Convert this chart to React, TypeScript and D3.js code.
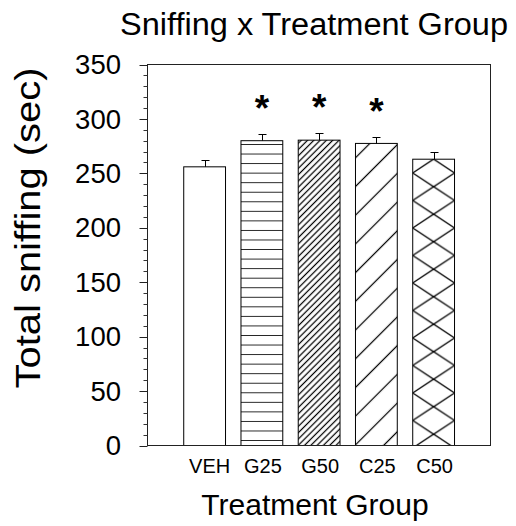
import React from "react";
import * as d3 from "d3";

const categories = ["VEH", "G25", "G50", "C25", "C50"];
const means = [256, 280, 280.5, 277.5, 263];
const sems = [6, 6, 6.5, 6, 6.5];
const significant = [false, true, true, true, false];
const fills = ["none", "hlines", "dense", "sparse", "cross"];
const yMajorTicks = [0, 50, 100, 150, 200, 250, 300, 350];
const titleText = "Sniffing x Treatment Group";
const yLabel = "Total sniffing (sec)";
const xLabel = "Treatment Group";

const W = 516;
const H = 526;
const left = 147.5;
const right = 490.5;
const top = 64.5;
const bottom = 445.5;
const FONT = "'Liberation Sans', Arial, Helvetica, sans-serif";

export default function App() {
  const y = d3.scaleLinear().domain([0, 350]).range([bottom, top]);
  const x = d3
    .scaleBand<string>()
    .domain(categories)
    .range([176, 462.25])
    .paddingInner(0.27)
    .paddingOuter(0.135);
  const bw = x.bandwidth();
  const minorTicks = d3.range(0, 351, 10).filter((v) => v % 50 !== 0);

  const patternFor = (kind: string, i: number) => {
    const bx = x(categories[i]) as number;
    const by = y(means[i]);
    const id = `pat-${i}`;
    if (kind === "hlines") {
      return (
        <pattern key={id} id={id} patternUnits="userSpaceOnUse" x={bx} y={Math.round(by) + 3} width={bw + 2} height={9.55}>
          <rect width={bw + 2} height={9.55} fill="#fff" />
          <line x1={0} x2={bw + 2} y1={0.5} y2={0.5} stroke="#222" strokeWidth={1} />
        </pattern>
      );
    }
    if (kind === "dense" || kind === "sparse") {
      const d = kind === "dense" ? 4.45 : 20.3;
      return (
        <pattern key={id} id={id} patternUnits="userSpaceOnUse" x={bx} y={by} width={d} height={d} patternTransform={`rotate(45 ${bx} ${by})`}>
          <rect width={d} height={d} fill="#fff" />
          <line x1={d / 2} x2={d / 2} y1={0} y2={d} stroke="#000" strokeWidth={1.25} />
        </pattern>
      );
    }
    if (kind === "cross") {
      const pw = bw;
      const ph = 27.5;
      return (
        <pattern key={id} id={id} patternUnits="userSpaceOnUse" x={bx} y={by} width={pw} height={ph}>
          <rect width={pw} height={ph} fill="#fff" />
          <path
            d={`M0,${ph / 2}L${pw / 2},0L${pw},${ph / 2}L${pw / 2},${ph}Z`}
            fill="none"
            stroke="#000"
            strokeWidth={1.4}
          />
        </pattern>
      );
    }
    return null;
  };

  return (
    <svg
      width={W}
      height={H}
      viewBox={`0 0 ${W} ${H}`}
      style={{ position: "absolute", left: 0, top: 0, background: "#fff" }}
      fontFamily={FONT}
    >
      <defs>{fills.map((k, i) => patternFor(k, i))}</defs>
      <rect x={0} y={0} width={W} height={H} fill="#fff" />

      {/* title */}
      <text x={120} y={35} fontSize={31} fill="#000" textLength={388} lengthAdjust="spacingAndGlyphs">
        {titleText}
      </text>

      {/* bars */}
      {categories.map((c, i) => {
        const bx = x(c) as number;
        const by = y(means[i]);
        return (
          <rect
            key={c}
            x={bx}
            y={by}
            width={bw}
            height={bottom - by}
            fill={fills[i] === "none" ? "#fff" : `url(#pat-${i})`}
            stroke="#000"
            strokeWidth={1}
          />
        );
      })}

      {/* error bars */}
      {categories.map((c, i) => {
        const cx = Math.round((x(c) as number) + bw / 2) + 0.5;
        const y0 = y(means[i]);
        const y1 = Math.round(y(means[i] + sems[i])) + 0.5;
        return (
          <g key={`e-${c}`} stroke="#000" strokeWidth={1}>
            <line x1={cx} x2={cx} y1={y0} y2={y1} />
            <line x1={cx - 4} x2={cx + 4} y1={y1} y2={y1} />
          </g>
        );
      })}

      {/* significance asterisks */}
      {categories.map((c, i) =>
        significant[i] ? (
          <text
            key={`s-${c}`}
            x={(x(c) as number) + bw / 2}
            y={y(means[i] + sems[i]) - 34 + 21}
            fontSize={37}
            fontWeight="bold"
            textAnchor="middle"
            fill="#000"
          >
            *
          </text>
        ) : null
      )}

      {/* frame */}
      <rect x={left} y={top} width={right - left} height={bottom - top} fill="none" stroke="#222" strokeWidth={1} />

      {/* y ticks */}
      {yMajorTicks.map((t) => (
        <g key={`t-${t}`}>
          <line x1={left - 8} x2={left} y1={Math.round(y(t)) + 0.5} y2={Math.round(y(t)) + 0.5} stroke="#222" strokeWidth={1} />
          <text x={121} y={y(t)} dy="0.35em" fontSize={27.5} textAnchor="end" fill="#000">
            {t}
          </text>
        </g>
      ))}
      {minorTicks.map((t) => (
        <line key={`m-${t}`} x1={left - 4} x2={left} y1={Math.round(y(t)) + 0.5} y2={Math.round(y(t)) + 0.5} stroke="#333" strokeWidth={1} />
      ))}

      {/* x category labels */}
      {categories.map((c) => (
        <text key={`l-${c}`} x={(x(c) as number) + bw / 2 + (c === "VEH" ? 5 : 1)} y={473} fontSize={20} textAnchor="middle" fill="#000">
          {c}
        </text>
      ))}

      {/* axis titles */}
      <text x={315} y={515} fontSize={30} textAnchor="middle" fill="#000">
        {xLabel}
      </text>
      <text
        transform={`translate(40, 228) rotate(-90)`}
        fontSize={35}
        textAnchor="middle"
        fill="#000"
        textLength={321}
        lengthAdjust="spacingAndGlyphs"
      >
        {yLabel}
      </text>
    </svg>
  );
}
